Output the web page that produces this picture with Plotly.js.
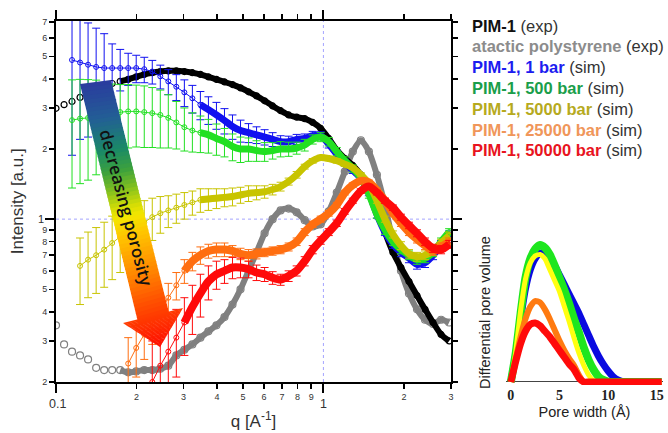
<!DOCTYPE html>
<html>
<head>
<meta charset="utf-8">
<script src="https://cdn.plot.ly/plotly-3.0.1.min.js"></script>
<style>html,body{margin:0;padding:0;background:#fff;}#chart{width:668px;height:433px;}</style>
</head>
<body>
<div id="chart"></div>
<script>
// ---------- DATA (main plot) ----------
const q = [0.1,0.1072,0.1148,0.123,0.1318,0.1413,0.1514,0.1622,0.1738,0.1862,
  0.1995,0.2138,0.2291,0.2455,0.263,0.2818,0.302,0.3236,0.3467,0.3715,
  0.3981,0.4266,0.4571,0.4898,0.5248,0.5623,0.6026,0.6457,0.6918,0.7413,
  0.7943,0.8511,0.912,0.9772,1.0471,1.122,1.2023,1.2882,1.3804,1.4791,
  1.5849,1.6982,1.8197,1.9498,2.0893,2.2387,2.3988,2.5704,2.7542,2.9512];

const pim1Exp = [2.99,3.1,3.2,3.33,3.45,3.6,3.72,3.82,3.9,3.98,
  4.08,4.18,4.25,4.3,4.33,4.33,4.3,4.25,4.18,4.08,
  3.98,3.88,3.78,3.66,3.52,3.38,3.22,3.06,2.92,2.8,
  2.74,2.7,2.6,2.45,2.22,1.98,1.82,1.7,1.55,1.35,
  1.1,0.88,0.72,0.62,0.54,0.47,0.41,0.36,0.32,0.3];

const psExp = [0.35,0.29,0.27,0.26,0.25,0.23,0.225,0.225,0.225,0.22,
  0.222,0.225,0.225,0.228,0.235,0.26,0.275,0.29,0.31,0.33,
  0.35,0.38,0.43,0.5,0.6,0.72,0.87,1.0,1.09,1.11,
  1.07,0.99,0.93,0.95,1.08,1.3,1.6,1.95,2.18,1.95,
  1.55,1.15,0.8,0.6,0.48,0.41,0.37,0.355,0.37,0.36];

const sim1 = [null,null,4.82,4.7,4.6,4.5,4.45,4.45,4.45,4.45,
  4.45,4.4,4.3,4.1,3.9,3.7,3.5,3.3,3.1,2.95,
  2.8,2.65,2.5,2.4,2.35,2.3,2.25,2.2,2.15,2.15,
  2.2,2.22,2.28,2.28,2.1,1.9,1.75,1.62,1.5,1.3,
  1.05,0.88,0.78,0.72,0.68,0.64,0.65,0.7,0.78,0.86];
const err1 = [null,null,2.94,2.5,2.35,2.1,1.8,1.2,0.9,0.7,
  0.6,0.55,0.5,0.48,0.48,0.47,0.46,0.45,0.43,0.4,
  0.37,0.33,0.3,0.26,0.22,0.19,0.17,0.15,0.13,0.12,
  0.11,0.1,0.1,0.09,0.08,0.07,0.06,0.05,0.05,0.04,
  0.04,0.03,0.03,0.03,0.03,0.03,0.03,0.03,0.03,0.03];

const sim500 = [null,null,2.66,2.7,2.72,2.75,2.8,2.85,2.88,2.9,
  2.9,2.88,2.85,2.8,2.72,2.6,2.48,2.4,2.35,2.3,
  2.22,2.15,2.05,2.0,2.0,1.97,1.95,1.97,2.0,2.0,
  2.02,2.08,2.2,2.25,2.15,1.95,1.78,1.65,1.5,1.28,
  1.05,0.9,0.8,0.74,0.7,0.67,0.68,0.72,0.8,0.88];
const err500 = [null,null,1.3,1.28,1.25,1.2,1.06,0.95,0.9,0.88,
  0.86,0.85,0.82,0.78,0.7,0.6,0.52,0.46,0.42,0.38,
  0.34,0.3,0.27,0.25,0.23,0.2,0.18,0.16,0.15,0.14,
  0.12,0.12,0.1,0.1,0.09,0.08,0.07,0.06,0.06,0.05,
  0.04,0.04,0.03,0.03,0.03,0.03,0.03,0.03,0.03,0.03];

const sim5000 = [null,null,null,0.63,0.67,0.7,0.74,0.79,0.84,0.88,
  0.92,0.97,1.02,1.06,1.09,1.12,1.15,1.18,1.21,1.22,
  1.23,1.24,1.25,1.27,1.29,1.3,1.31,1.34,1.38,1.45,
  1.55,1.68,1.78,1.84,1.82,1.78,1.72,1.66,1.55,1.42,
  1.2,1.0,0.86,0.77,0.71,0.69,0.7,0.73,0.79,0.85];
const err5000 = [null,null,null,0.2,0.21,0.22,0.23,0.24,0.25,0.25,
  0.24,0.23,0.21,0.19,0.17,0.16,0.15,0.14,0.14,0.13,
  0.12,0.11,0.11,0.1,0.1,0.09,0.08,0.07,0.06,0.05,
  0.05,0.04,0.04,0.04,0.04,0.04,0.03,0.03,0.03,0.03,
  0.03,0.03,0.03,0.03,0.03,0.03,0.03,0.03,0.03,0.03];

const sim25000 = [null,null,null,null,null,null,null,null,null,0.24,
  0.28,0.32,0.36,0.4,0.46,0.52,0.6,0.66,0.7,0.73,
  0.74,0.74,0.73,0.71,0.7,0.71,0.72,0.73,0.74,0.76,
  0.8,0.88,0.95,1.0,1.06,1.15,1.3,1.4,1.46,1.44,
  1.33,1.2,1.06,0.96,0.88,0.82,0.77,0.73,0.76,0.8];
const err25000 = [null,null,null,null,null,null,null,null,null,0.07,
  0.07,0.07,0.07,0.07,0.07,0.07,0.07,0.06,0.06,0.05,
  0.05,0.05,0.04,0.04,0.04,0.035,0.03,0.03,0.03,0.03,
  0.03,0.03,0.03,0.03,0.03,0.03,0.03,0.03,0.03,0.03,
  0.03,0.03,0.03,0.03,0.03,0.03,0.03,0.03,0.03,0.03];

const sim50000 = [null,null,null,null,null,null,null,null,null,null,
  null,null,0.2,0.235,0.27,0.31,0.36,0.42,0.48,0.54,
  0.58,0.6,0.62,0.62,0.61,0.59,0.58,0.56,0.55,0.57,
  0.6,0.66,0.74,0.81,0.88,0.96,1.08,1.2,1.32,1.38,
  1.3,1.2,1.12,1.02,0.94,0.87,0.8,0.75,0.74,0.78];
const err50000 = [null,null,null,null,null,null,null,null,null,null,
  null,null,0.1,0.1,0.1,0.1,0.1,0.1,0.1,0.09,
  0.08,0.07,0.065,0.06,0.05,0.045,0.04,0.035,0.03,0.03,
  0.03,0.03,0.03,0.03,0.03,0.03,0.03,0.03,0.03,0.03,
  0.03,0.03,0.03,0.03,0.03,0.03,0.03,0.03,0.03,0.03];

const xTickVals = [0.2,0.3,0.4,0.5,0.6,0.7,0.8,0.9,2,3];
const xTickText = ['2','3','4','5','6','7','8','9','2','3'];
const xMajorVals = [0.1,1];
const yTickVals = [0.2,0.3,0.4,0.5,0.6,0.7,0.8,0.9,2,3,4,5,6,7];
const yTickText = ['2','3','4','5','6','7','8','9','2','3','4','5','6','7'];
const yMajorVals = [1];

// ---------- DATA (inset: pore size distribution) ----------
const poreW = [0,0.5,1,1.5,2,2.5,3,3.5,4,4.5,5,5.5,6,6.5,7,7.5,8,8.5,9,9.5,10,10.5,11,11.5,12,12.5,13,13.5,14,14.5,15,15.5];
const psd1 = [0,0.2,0.46,0.68,0.82,0.9,0.94,0.94,0.9,0.85,0.78,0.71,0.64,0.57,0.5,0.42,0.34,0.26,0.19,0.13,0.08,0.04,0.015,0.003,0,0,0,0,0,0,0,0];
const psd500 = [0,0.21,0.5,0.76,0.9,0.97,1.0,0.98,0.93,0.85,0.76,0.67,0.57,0.46,0.36,0.25,0.16,0.09,0.04,0.015,0.003,0,0,0,0,0,0,0,0,0,0,0];
const psd5000 = [0,0.22,0.52,0.75,0.87,0.92,0.93,0.9,0.82,0.74,0.66,0.55,0.44,0.32,0.21,0.12,0.05,0.01,0,0,0,0,0,0,0,0,0,0,0,0,0,0];
const psd25000 = [0,0.17,0.33,0.46,0.55,0.59,0.58,0.53,0.46,0.38,0.3,0.23,0.17,0.12,0.05,0,0,0,0,0,0,0,0,0,0,0,0,0,0,0,0,0];
const psd50000 = [0,0.15,0.28,0.37,0.42,0.43,0.41,0.37,0.33,0.28,0.23,0.18,0.13,0.09,0.03,0,0,0,0,0,0,0,0,0,0,0,0,0,0,0,0,0];

// ---------- STYLE ----------
const W = 668, H = 433;
const PX = x => x / W, PY = y => 1 - y / H;
const C = {black:'#000000', gray:'#808080', blue:'#1010f0', green:'#22e022', yellow:'#c8c400', orange:'#ff6e10', red:'#ff0a0a'};

const traces = [];
// dotted reference lines at q = 1 and I = 1
traces.push({x:[1,1], y:[0.2,7.12], mode:'lines', line:{color:'#a4a4ff', width:1, dash:'dot'}, hoverinfo:'skip'});
traces.push({x:[0.1,3], y:[1,1], mode:'lines', line:{color:'#a4a4ff', width:1, dash:'dot'}, hoverinfo:'skip'});

function band(y, qStart) { return y.map((v, i) => q[i] >= qStart ? v : null); }

function expTraces(y, color, msize, qBand, bw) {
  traces.push({x:q, y:y, mode:'markers', marker:{symbol:'circle-open', size:msize, color:color, line:{width:1.2}}, hoverinfo:'skip'});
  traces.push({x:q, y:band(y, qBand), mode:'lines', line:{color:color, width:bw, shape:'spline', smoothing:0.7}, hoverinfo:'skip'});
}
function simTraces(y, err, color, qBand, bw) {
  traces.push({x:q, y:y, mode:'lines+markers',
    line:{color:color, width:1},
    marker:{symbol:'circle-open', size:5, color:color, line:{width:1}},
    error_y:{type:'data', array:err, visible:true, color:color, thickness:1, width:4},
    hoverinfo:'skip'});
  traces.push({x:q, y:band(y, qBand), mode:'lines', line:{color:color, width:bw, shape:'spline', smoothing:0.7}, hoverinfo:'skip'});
}
expTraces(psExp, C.gray, 7, 0.17, 6);
expTraces(pim1Exp, C.black, 6, 0.165, 6);
simTraces(sim1, err1, C.blue, 0.33, 7);
simTraces(sim500, err500, C.green, 0.33, 7);
simTraces(sim5000, err5000, C.yellow, 0.33, 7);
simTraces(sim25000, err25000, C.orange, 0.3, 8);
simTraces(sim50000, err50000, C.red, 0.3, 8);

// inset
const insetSeries = [[psd1,'#0a0ae0',7],[psd500,'#1ee61e',8],[psd5000,'#ffff10',5],[psd25000,'#ff7a10',6],[psd50000,'#ff0a0a',7]];
insetSeries.forEach(([v,c,w]) => {
  traces.push({x:poreW, y:v, xaxis:'x2', yaxis:'y2', mode:'lines', line:{color:c, width:w, shape:'spline', smoothing:0.6}, hoverinfo:'skip'});
});

// ---------- arrow (gradient built from slices) ----------
const stops = [[0,'#2b3a9f'],[0.14,'#225f95'],[0.26,'#1a8a66'],[0.34,'#3ea23c'],[0.41,'#86c21e'],[0.47,'#d2dc06'],[0.51,'#f4e600'],[0.58,'#ffc400'],[0.71,'#ff8c00'],[0.83,'#ff5200'],[1,'#ff0c00']];
function hex2rgb(h){return [parseInt(h.substr(1,2),16),parseInt(h.substr(3,2),16),parseInt(h.substr(5,2),16)];}
function colAt(f){
  f = Math.max(0, Math.min(1, f));
  for (let i = 0; i < stops.length - 1; i++) {
    const [f0,c0] = stops[i], [f1,c1] = stops[i+1];
    if (f <= f1) { const t = (f - f0) / (f1 - f0); const a = hex2rgb(c0), b = hex2rgb(c1);
      return 'rgb(' + a.map((v,k)=>Math.round(v + (b[k]-v)*t)).join(',') + ')'; }
  }
  return stops[stops.length-1][1];
}
const lerp = (a,b,t)=>[a[0]+(b[0]-a[0])*t, a[1]+(b[1]-a[1])*t];
const L0=[80,84], L1=[137,318], R0=[111,80], R1=[168,309];
const HL=[123,323], HR=[183,308], TIP=[160,347];
const yTop = 82, yBot = 347;
const pathOf = pts => 'M ' + pts.map(p => PX(p[0]).toFixed(5) + ',' + PY(p[1]).toFixed(5)).join(' L ') + ' Z';
const shapes = [];
const NS = 60;
for (let k = 0; k < NS; k++) {
  const s0 = k / NS * 1.03, s1 = Math.min((k + 1.3) / NS * 1.03, 1.03);
  const a = lerp(L0,L1,s0), b = lerp(R0,R1,s0), c = lerp(R0,R1,s1), d = lerp(L0,L1,s1);
  const yc = (a[1]+b[1]+c[1]+d[1])/4;
  shapes.push({type:'path', xref:'paper', yref:'paper', path:pathOf([a,b,c,d]), fillcolor:colAt((yc-yTop)/(yBot-yTop)), line:{width:0}, layer:'above'});
}
const NH = 25;
for (let k = 0; k < NH; k++) {
  const u0 = k / NH, u1 = Math.min((k + 1.3) / NH, 1);
  const a = lerp(HL,TIP,u0), b = lerp(HR,TIP,u0), c = lerp(HR,TIP,u1), d = lerp(HL,TIP,u1);
  const yc = (a[1]+b[1]+c[1]+d[1])/4;
  shapes.push({type:'path', xref:'paper', yref:'paper', path:pathOf([a,b,c,d]), fillcolor:colAt((yc-yTop)/(yBot-yTop)), line:{width:0}, layer:'above'});
}

// ---------- annotations (legend, decade tick labels, arrow text) ----------
const SANS = 'Liberation Sans, Arial, sans-serif';
const ann = [];
function txt(text, x, y, opt) {
  ann.push(Object.assign({text:text, xref:'paper', yref:'paper', x:PX(x), y:PY(y), showarrow:false,
    xanchor:'center', yanchor:'middle', font:{family:SANS, size:12, color:'#333'}}, opt || {}));
}
txt('0.1', 57, 404, {font:{family:SANS, size:12.5, color:'#333'}});
txt('1', 323, 404, {font:{family:SANS, size:12.5, color:'#333'}});
txt('1', 41, 219, {font:{family:SANS, size:11, color:'#333'}});
txt('decreasing porosity', 127, 208, {textangle:75, font:{family:'Open Sans, sans-serif', size:17, weight:600, color:'#111'}});

const legend = [
  ['PIM-1', '(exp)', '#111111', 26],
  ['atactic polystyrene', '(exp)', '#8c8c8c', 46],
  ['PIM-1, 1 bar', '(sim)', '#1c1cf0', 67],
  ['PIM-1, 500 bar', '(sim)', '#1a9e4a', 88],
  ['PIM-1, 5000 bar', '(sim)', '#b6aa1e', 109],
  ['PIM-1, 25000 bar', '(sim)', '#f0965a', 130],
  ['PIM-1, 50000 bar', '(sim)', '#e8141e', 150]
];
legend.forEach(([n, s, c, y]) => {
  txt('<b>' + n + '</b> <span style="color:#333">' + s + '</span>', 470, y,
      {xanchor:'left', font:{family:SANS, size:16.5, color:c}});
});

const tickFont = {family:SANS, size:9, color:'#333'};
const layout = {
  width:W, height:H, margin:{l:0, r:0, t:0, b:0},
  paper_bgcolor:'#ffffff', plot_bgcolor:'rgba(0,0,0,0)', showlegend:false,
  xaxis:{type:'log', range:[-1, Math.log10(3)], domain:[PX(56), PX(451)], anchor:'y',
    title:{text:'q [A<sup>-1</sup>]', standoff:14, font:{family:SANS, size:17, color:'#333'}},
    tickmode:'array', tickvals:xTickVals, ticktext:xTickText, ticks:'outside', ticklen:5, tickwidth:1.5, tickcolor:'#000',
    minor:{tickmode:'array', tickvals:xMajorVals, ticks:'outside', ticklen:9, tickwidth:2, tickcolor:'#000', showgrid:false},
    showline:true, linecolor:'#000', linewidth:2, mirror:'allticks', showgrid:false, zeroline:false, tickfont:tickFont, tickangle:0},
  yaxis:{type:'log', range:[Math.log10(0.2), Math.log10(7.12)], domain:[PY(382), PY(20.5)], anchor:'x',
    title:{text:'Intensity [a.u.]', standoff:14, font:{family:SANS, size:17, color:'#333'}},
    tickmode:'array', tickvals:yTickVals, ticktext:yTickText, ticks:'outside', ticklen:5, tickwidth:1.5, tickcolor:'#000',
    minor:{tickmode:'array', tickvals:yMajorVals, ticks:'outside', ticklen:9, tickwidth:2, tickcolor:'#000', showgrid:false},
    showline:true, linecolor:'#000', linewidth:2, mirror:'allticks', showgrid:false, zeroline:false, tickfont:tickFont},
  xaxis2:{domain:[PX(506), PX(663)], range:[-0.5, 15.64], anchor:'y2', showline:false, showgrid:false, zeroline:false,
    title:{text:'Pore width (Å)', standoff:4, font:{family:SANS, size:14.5, color:'#222'}},
    ticks:'', tickmode:'array', tickvals:[0,5,10,15],
    tickfont:{family:'Liberation Serif, Times New Roman, serif', size:14, weight:'bold', color:'#222'}},
  yaxis2:{domain:[PY(385), PY(240)], range:[-0.022, 1.036], anchor:'x2', showticklabels:false, showgrid:false,
    title:{text:'Differential pore volume', standoff:10, font:{family:SANS, size:14.5, color:'#222'}},
    zeroline:true, zerolinecolor:'#444', zerolinewidth:1, showline:false, ticks:''},
  shapes:shapes,
  annotations:ann
};
Plotly.newPlot('chart', traces, layout, {staticPlot:true, displayModeBar:false});
</script>
</body>
</html>
